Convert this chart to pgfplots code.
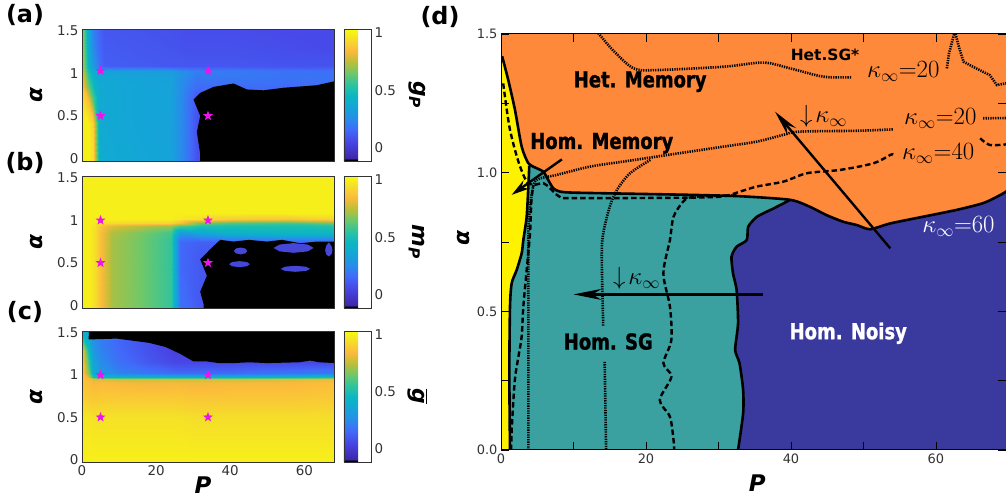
\documentclass[border=0pt]{standalone}
\usepackage[no-math]{fontspec}
\setmainfont{DejaVu Sans}
\newfontfamily\labfont{DejaVu Sans}[FakeStretch=0.82, BoldFeatures={FakeBold=1.2}]
\usepackage{pgfplots}
\pgfplotsset{compat=1.18}
\usetikzlibrary{arrows.meta}
\definecolor{orC}{RGB}{255,137,58}
\definecolor{tealC}{RGB}{58,160,160}
\definecolor{blueC}{RGB}{58,58,158}
\definecolor{starC}{RGB}{235,20,235}
\definecolor{blobC}{RGB}{70,70,215}
\definecolor{tickC}{RGB}{50,50,50}
\pgfplotsset{colormap={parb}{rgb255(0cm)=(0,0,0) rgb255(1.5cm)=(0,0,0) rgb255(2cm)=(62,38,168) rgb255(17cm)=(72,70,230) rgb255(27cm)=(65,105,250) rgb255(37cm)=(40,140,235) rgb255(47cm)=(20,165,215) rgb255(57cm)=(10,182,195) rgb255(67cm)=(45,195,160) rgb255(77cm)=(110,200,105) rgb255(87cm)=(190,190,55) rgb255(97cm)=(252,187,60) rgb255(107cm)=(245,222,42) rgb255(115.5cm)=(249,251,14)}}
\pgfdeclareplotmark{fstar}{%
 \pgfpathmoveto{\pgfpointpolar{90}{\pgfplotmarksize}}%
 \pgfpathlineto{\pgfpointpolar{126}{0.42\pgfplotmarksize}}%
 \pgfpathlineto{\pgfpointpolar{162}{\pgfplotmarksize}}%
 \pgfpathlineto{\pgfpointpolar{198}{0.42\pgfplotmarksize}}%
 \pgfpathlineto{\pgfpointpolar{234}{\pgfplotmarksize}}%
 \pgfpathlineto{\pgfpointpolar{270}{0.42\pgfplotmarksize}}%
 \pgfpathlineto{\pgfpointpolar{306}{\pgfplotmarksize}}%
 \pgfpathlineto{\pgfpointpolar{342}{0.42\pgfplotmarksize}}%
 \pgfpathlineto{\pgfpointpolar{18}{\pgfplotmarksize}}%
 \pgfpathlineto{\pgfpointpolar{54}{0.42\pgfplotmarksize}}%
 \pgfpathclose\pgfusepathqfill}
\pgfplotsset{leftp/.style={scale only axis, width=252bp, height=132bp,
  xmin=0, xmax=68, ymin=-0.03, ymax=1.52, axis on top,
  ytick={0,0.5,1,1.5}, yticklabels={0,0.5,1,1.5},
  xtick={0,20,40,60}, major tick length=0,
  tick label style={font=\fontsize{13.5}{15}\selectfont, text=tickC},
  axis line style={draw=black!80},
  ylabel={\bfseries\itshape α},
  ylabel style={at={(axis description cs:-0.179,0.5)}, anchor=center, font=\fontsize{22}{24}\selectfont},
  colorbar, colormap name=parb, point meta min=-0.12, point meta max=1.035,
  colorbar shift/.style={xshift=0bp},
  colorbar style={at={(parent axis.north east)}, anchor=north west, xshift=10bp,
    scale only axis, width=27bp, ytick={0,0.5,1}, yticklabels={0,0.5,1}, major tick length=0,
    yticklabel style={font=\fontsize{13.5}{15}\selectfont, text=tickC},
    axis line style={draw=black!80},
    ylabel style={at={(axis description cs:2.7,0.5)}, anchor=center, rotate=180, font=\fontsize{22}{24}\selectfont}},
  },
  starp/.style={only marks, mark=fstar, mark size=5.2bp, color=starC},
  dotl/.style={black, line width=2.6bp, dash pattern=on 1.3bp off 1.1bp},
  dashl/.style={black, line width=2.4bp, dash pattern=on 5.5bp off 3bp}}
\begin{document}
\begin{tikzpicture}
% ---------------- (a)
\begin{axis}[leftp, at={(82bp,339bp)}, anchor=south west, xticklabels={},
  colorbar style={ylabel={\bfseries\itshape g\textsubscript{P}}}]
\addplot[surf, shader=interp, mesh/cols=12, point meta=explicit] table[row sep=\\, x=x, y=y, meta=c]{
x y c\\
0 -0.03 1\\ 1.5 -0.03 1\\ 3 -0.03 0.95\\ 4.5 -0.03 0.42\\ 6 -0.03 0.38\\ 15 -0.03 0.36\\ 24 -0.03 0.34\\ 28 -0.03 0.2\\ 31 -0.03 0.08\\ 40 -0.03 0.1\\ 55 -0.03 0.1\\ 68 -0.03 0.1\\
0 0.4 1\\ 1.5 0.4 1\\ 3 0.4 0.92\\ 4.5 0.4 0.4\\ 6 0.4 0.37\\ 15 0.4 0.35\\ 24 0.4 0.34\\ 28 0.4 0.2\\ 31 0.4 0.08\\ 40 0.4 0.1\\ 55 0.4 0.1\\ 68 0.4 0.1\\
0 0.7 0.95\\ 1.5 0.7 0.85\\ 3 0.7 0.6\\ 4.5 0.7 0.38\\ 6 0.7 0.37\\ 15 0.7 0.35\\ 24 0.7 0.34\\ 28 0.7 0.2\\ 31 0.7 0.1\\ 40 0.7 0.12\\ 55 0.7 0.12\\ 68 0.7 0.12\\
0 0.85 0.88\\ 1.5 0.85 0.65\\ 3 0.85 0.48\\ 4.5 0.85 0.38\\ 6 0.85 0.37\\ 15 0.85 0.35\\ 24 0.85 0.34\\ 28 0.85 0.22\\ 31 0.85 0.16\\ 40 0.85 0.16\\ 55 0.85 0.16\\ 68 0.85 0.16\\
0 0.98 0.82\\ 1.5 0.98 0.55\\ 3 0.98 0.42\\ 4.5 0.98 0.36\\ 6 0.98 0.36\\ 15 0.98 0.34\\ 24 0.98 0.33\\ 28 0.98 0.25\\ 31 0.98 0.2\\ 40 0.98 0.2\\ 55 0.98 0.18\\ 68 0.98 0.18\\
0 1.03 0.8\\ 1.5 1.03 0.5\\ 3 1.03 0.4\\ 4.5 1.03 0.34\\ 6 1.03 0.33\\ 15 1.03 0.32\\ 24 1.03 0.31\\ 28 1.03 0.25\\ 31 1.03 0.21\\ 40 1.03 0.2\\ 55 1.03 0.18\\ 68 1.03 0.17\\
0 1.08 0.78\\ 1.5 1.08 0.45\\ 3 1.08 0.3\\ 4.5 1.08 0.18\\ 6 1.08 0.12\\ 15 1.08 0.11\\ 24 1.08 0.1\\ 28 1.08 0.1\\ 31 1.08 0.1\\ 40 1.08 0.1\\ 55 1.08 0.09\\ 68 1.08 0.09\\
0 1.3 0.75\\ 1.5 1.3 0.4\\ 3 1.3 0.25\\ 4.5 1.3 0.15\\ 6 1.3 0.11\\ 15 1.3 0.1\\ 24 1.3 0.09\\ 28 1.3 0.08\\ 31 1.3 0.08\\ 40 1.3 0.08\\ 55 1.3 0.07\\ 68 1.3 0.06\\
0 1.52 0.72\\ 1.5 1.52 0.38\\ 3 1.52 0.22\\ 4.5 1.52 0.14\\ 6 1.52 0.1\\ 15 1.52 0.09\\ 24 1.52 0.08\\ 28 1.52 0.07\\ 31 1.52 0.07\\ 40 1.52 0.07\\ 55 1.52 0.06\\ 68 1.52 0.06\\
};
\addplot[fill=black, draw=none] coordinates {(31.9,-0.05)(31.9,0.05)(31.0,0.31)(31.9,0.5)(30.1,0.69)(31.9,0.77)(35.5,0.84)(40.9,0.88)(44.5,0.81)(49,0.80)(54.4,0.83)(63.4,0.86)(68.5,0.91)(68.5,-0.05)} --cycle;
\addplot[starp] coordinates {(5,1.03)(34,1.03)(5,0.5)(34,0.5)};
\end{axis}
% ---------------- (b)
\begin{axis}[leftp, at={(82bp,192bp)}, anchor=south west, xticklabels={},
  colorbar style={ylabel={\bfseries\itshape m\textsubscript{P}}}]
\addplot[surf, shader=interp, mesh/cols=12, point meta=explicit] table[row sep=\\, x=x, y=y, meta=c]{
x y c\\
0 -0.03 1\\ 2 -0.03 1\\ 3.5 -0.03 0.95\\ 5 -0.03 0.85\\ 8 -0.03 0.72\\ 15 -0.03 0.66\\ 24 -0.03 0.56\\ 26.5 -0.03 0.18\\ 32 -0.03 0.1\\ 40 -0.03 0.1\\ 55 -0.03 0.1\\ 68 -0.03 0.1\\
0 0.5 1\\ 2 0.5 1\\ 3.5 0.5 0.95\\ 5 0.5 0.85\\ 8 0.5 0.72\\ 15 0.5 0.66\\ 24 0.5 0.56\\ 26.5 0.5 0.15\\ 32 0.5 0.1\\ 40 0.5 0.1\\ 55 0.5 0.1\\ 68 0.5 0.1\\
0 0.75 1\\ 2 0.75 1\\ 3.5 0.75 0.95\\ 5 0.75 0.85\\ 8 0.75 0.72\\ 15 0.75 0.66\\ 24 0.75 0.56\\ 26.5 0.75 0.15\\ 32 0.75 0.12\\ 40 0.75 0.13\\ 55 0.75 0.13\\ 68 0.75 0.13\\
0 0.85 1\\ 2 0.85 1\\ 3.5 0.85 0.95\\ 5 0.85 0.85\\ 8 0.85 0.73\\ 15 0.85 0.67\\ 24 0.85 0.58\\ 26.5 0.85 0.3\\ 32 0.85 0.35\\ 40 0.85 0.42\\ 55 0.85 0.45\\ 68 0.85 0.45\\
0 0.93 1\\ 2 0.93 1\\ 3.5 0.93 0.96\\ 5 0.93 0.88\\ 8 0.93 0.8\\ 15 0.93 0.75\\ 24 0.93 0.7\\ 26.5 0.93 0.6\\ 32 0.93 0.52\\ 40 0.93 0.5\\ 55 0.93 0.5\\ 68 0.93 0.52\\
0 0.97 1\\ 2 0.97 1\\ 3.5 0.97 0.98\\ 5 0.97 0.96\\ 8 0.97 0.94\\ 15 0.97 0.93\\ 24 0.97 0.92\\ 26.5 0.97 0.85\\ 32 0.97 0.65\\ 40 0.97 0.6\\ 55 0.97 0.58\\ 68 0.97 0.65\\
0 1.02 1\\ 2 1.02 1\\ 3.5 1.02 1\\ 5 1.02 1\\ 8 1.02 1\\ 15 1.02 1\\ 24 1.02 1\\ 26.5 1.02 0.98\\ 32 1.02 0.95\\ 40 1.02 0.9\\ 55 1.02 0.88\\ 68 1.02 0.92\\
0 1.08 1\\ 2 1.08 1\\ 3.5 1.08 1\\ 5 1.08 1\\ 8 1.08 1\\ 15 1.08 1\\ 24 1.08 1\\ 26.5 1.08 1\\ 32 1.08 1\\ 40 1.08 1\\ 55 1.08 1\\ 68 1.08 1\\
0 1.52 1\\ 2 1.52 1\\ 3.5 1.52 1\\ 5 1.52 1\\ 8 1.52 1\\ 15 1.52 1\\ 24 1.52 1\\ 26.5 1.52 1\\ 32 1.52 1\\ 40 1.52 1\\ 55 1.52 1\\ 68 1.52 1\\
};
\addplot[fill=black, draw=none] coordinates {(32.8,-0.05)(32.8,0.02)(31.9,0.16)(33.7,0.35)(31.9,0.54)(34.6,0.66)(37.3,0.77)(40.9,0.75)(45,0.77)(49.9,0.75)(54,0.77)(58.9,0.73)(63.4,0.75)(68.5,0.75)(68.5,-0.05)} --cycle;
\addplot[fill=blobC, draw=none] coordinates {(45.3,0.485)(44.5,0.51)(42.5,0.52)(40.5,0.51)(39.7,0.485)(40.5,0.46)(42.5,0.45)(44.5,0.46)} --cycle;
\addplot[fill=blobC, draw=none] coordinates {(61.6,0.43)(60.4,0.455)(57.6,0.465)(54.8,0.455)(53.6,0.43)(54.8,0.405)(57.6,0.395)(60.4,0.405)} --cycle;
\addplot[fill=blobC, draw=none] coordinates {(62.5,0.675)(60.9,0.715)(57.1,0.732)(53.3,0.715)(51.7,0.675)(53.3,0.635)(57.1,0.618)(60.9,0.635)} --cycle;
\addplot[fill=blobC, draw=none] coordinates {(44.6,0.64)(44.1,0.668)(42.8,0.68)(41.5,0.668)(41,0.64)(41.5,0.612)(42.8,0.6)(44.1,0.612)} --cycle;
\addplot[fill=blobC, draw=none] coordinates {(67.6,0.65)(67.3,0.7)(66.6,0.74)(65.9,0.7)(65.6,0.65)(65.9,0.6)(66.6,0.575)(67.3,0.6)} --cycle;
\addplot[starp] coordinates {(5,1)(34,1)(5,0.5)(34,0.5)};
\end{axis}
% ---------------- (c)
\begin{axis}[leftp, at={(82bp,38bp)}, anchor=south west, height=131bp,
  xticklabels={0,20,40,60},
  xlabel={\bfseries\itshape P},
  xlabel style={at={(axis description cs:0.48,-0.18)}, anchor=center, font=\fontsize{23}{25}\selectfont},
  colorbar style={ylabel={$\overline{\hbox{\bfseries\itshape g}}$}}]
\addplot[surf, shader=interp, mesh/cols=11, point meta=explicit] table[row sep=\\, x=x, y=y, meta=c]{
x y c\\
0 -0.03 1\\ 1.5 -0.03 1\\ 3 -0.03 1\\ 5 -0.03 1\\ 10 -0.03 1\\ 18 -0.03 1\\ 25 -0.03 1\\ 30 -0.03 1\\ 40 -0.03 1\\ 55 -0.03 1\\ 68 -0.03 1\\
0 0.5 0.97\\ 1.5 0.5 0.97\\ 3 0.5 0.96\\ 5 0.5 0.96\\ 10 0.5 0.96\\ 18 0.5 0.96\\ 25 0.5 0.96\\ 30 0.5 0.95\\ 40 0.5 0.95\\ 55 0.5 0.95\\ 68 0.5 0.95\\
0 0.7 0.92\\ 1.5 0.7 0.9\\ 3 0.7 0.89\\ 5 0.7 0.9\\ 10 0.7 0.9\\ 18 0.7 0.9\\ 25 0.7 0.9\\ 30 0.7 0.89\\ 40 0.7 0.89\\ 55 0.7 0.89\\ 68 0.7 0.9\\
0 0.9 0.88\\ 1.5 0.9 0.86\\ 3 0.9 0.84\\ 5 0.9 0.85\\ 10 0.9 0.84\\ 18 0.9 0.83\\ 25 0.9 0.84\\ 30 0.9 0.83\\ 40 0.9 0.84\\ 55 0.9 0.84\\ 68 0.9 0.86\\
0 0.95 0.88\\ 1.5 0.95 0.85\\ 3 0.95 0.8\\ 5 0.95 0.8\\ 10 0.95 0.78\\ 18 0.95 0.78\\ 25 0.95 0.78\\ 30 0.95 0.78\\ 40 0.95 0.78\\ 55 0.95 0.8\\ 68 0.95 0.82\\
0 0.98 0.88\\ 1.5 0.98 0.8\\ 3 0.98 0.5\\ 5 0.98 0.45\\ 10 0.98 0.42\\ 18 0.98 0.42\\ 25 0.98 0.42\\ 30 0.98 0.42\\ 40 0.98 0.42\\ 55 0.98 0.45\\ 68 0.98 0.5\\
0 1.02 0.88\\ 1.5 1.02 0.7\\ 3 1.02 0.38\\ 5 1.02 0.3\\ 10 1.02 0.22\\ 18 1.02 0.18\\ 25 1.02 0.15\\ 30 1.02 0.15\\ 40 1.02 0.15\\ 55 1.02 0.18\\ 68 1.02 0.2\\
0 1.15 0.88\\ 1.5 1.15 0.6\\ 3 1.15 0.35\\ 5 1.15 0.25\\ 10 1.15 0.17\\ 18 1.15 0.1\\ 25 1.15 0.05\\ 30 1.15 0.05\\ 40 1.15 0.05\\ 55 1.15 0.05\\ 68 1.15 0.05\\
0 1.3 0.85\\ 1.5 1.3 0.5\\ 3 1.3 0.3\\ 5 1.3 0.22\\ 10 1.3 0.15\\ 18 1.3 0.08\\ 25 1.3 0.03\\ 30 1.3 0.03\\ 40 1.3 0.03\\ 55 1.3 0.03\\ 68 1.3 0.03\\
0 1.52 0.4\\ 1.5 1.52 0.35\\ 3 1.52 0.25\\ 5 1.52 0.2\\ 10 1.52 0.13\\ 18 1.52 0.07\\ 25 1.52 0.03\\ 30 1.52 0.03\\ 40 1.52 0.03\\ 55 1.52 0.03\\ 68 1.52 0.03\\
};
\addplot[fill=black, draw=none] coordinates {(1.9,1.6)(1.8,1.42)(9.4,1.43)(18.1,1.38)(22.6,1.33)(26.5,1.25)(30.1,1.16)(33.7,1.16)(37,1.14)(40.6,1.14)(45.1,1.15)(50,1.14)(58.6,1.15)(61.6,1.17)(64,1.15)(68.5,1.14)(68.5,1.6)} --cycle;
\addplot[starp] coordinates {(5,1)(34,1)(5,0.5)(34,0.5)};
\end{axis}
% ---------------- (d)
\begin{axis}[at={(501bp,50bp)}, anchor=south west, scale only axis,
  width=505.3bp, height=416bp, xmin=0, xmax=69.7, ymin=0, ymax=1.5, axis on top,
  xtick={0,10,...,60}, xticklabels={0,,20,,40,,60},
  ytick={0,0.25,...,1.5}, yticklabels={0.0,,0.5,,1.0,,1.5},
  tick align=inside, major tick length=8bp, tick style={black, line width=0.8bp},
  tick label style={font=\fontsize{13}{15}\selectfont, text=tickC},
  axis line style={line width=1bp},
  xlabel={\bfseries\itshape P},
  xlabel style={at={(axis description cs:0.507,-0.079)}, anchor=center, font=\fontsize{23}{25}\selectfont},
  ylabel={\bfseries\itshape α},
  ylabel style={at={(axis description cs:-0.075,0.51)}, anchor=center, font=\fontsize{22}{24}\selectfont},
  ]
\addplot[fill=orC, draw=none] coordinates {(0,0)(70,0)(70,1.5)(0,1.5)} --cycle;
\addplot[fill=tealC, draw=none] coordinates {(1.24,0)(1.15,0.277)(1.24,0.517)(1.47,0.601)(2.16,0.649)(2.85,0.709)(3.08,0.757)(3.54,0.841)(3.77,0.95)(3.9,1.025)(4.92,1.016)(5.84,1.004)(6.5,0.974)(7.2,0.944)(8.1,0.932)(10,0.928)(26.1,0.92)(39.9,0.902)(37.6,0.871)(35.3,0.841)(34.1,0.805)(33.9,0.757)(32.5,0.733)(31.8,0.697)(32.0,0.637)(32.5,0.577)(32.7,0.457)(32.3,0.361)(32.9,0.313)(33.4,0.216)(33.4,0.132)(32.7,0)} --cycle;
\addplot[fill=blueC, draw=none] coordinates {(39.9,0.902)(42.6,0.877)(44.9,0.847)(47.2,0.823)(49.1,0.811)(50.9,0.796)(53.7,0.817)(58.2,0.841)(62.9,0.866)(66.5,0.890)(68.4,0.913)(69.7,0.932)(70,0.94)(70,0)(32.7,0)(33.4,0.132)(33.4,0.216)(32.9,0.313)(32.3,0.361)(32.7,0.457)(32.5,0.577)(32.0,0.637)(31.8,0.697)(32.5,0.733)(33.9,0.757)(34.1,0.805)(35.3,0.841)(37.6,0.871)} --cycle;
\addplot[fill=yellow, draw=none] coordinates {(0,0)(1.24,0)(1.15,0.277)(1.24,0.517)(1.47,0.601)(2.16,0.649)(2.85,0.709)(3.08,0.757)(3.54,0.841)(3.77,0.95)(3.9,1.025)(3.77,1.034)(2.85,1.094)(1.93,1.226)(1.0,1.334)(0.18,1.416)(0,1.43)} --cycle;
% dotted lines
\addplot[dotl, smooth] coordinates {(13.2,1.51)(15.5,1.44)(18.3,1.376)(21.5,1.37)(30.7,1.382)(36.2,1.397)(39.9,1.376)(44.5,1.346)(48.4,1.344)};
\addplot[dotl] coordinates {(61.5,1.376)(61.8,1.43)(62.6,1.51)(63.2,1.45)(63.8,1.40)(65.1,1.382)(67.4,1.352)(68.4,1.316)(69.7,1.322)};
\addplot[dotl, smooth] coordinates {(3.77,0)(3.77,0.4)(3.77,0.757)(3.9,0.85)(4.3,0.93)(4.9,0.974)(7.7,0.992)(12.3,1.022)(16.9,1.040)(21.5,1.058)(26.1,1.076)(30.7,1.094)(35.3,1.112)(38.9,1.136)(41.2,1.148)(49.1,1.151)(54.1,1.156)};
\addplot[dotl] coordinates {(66.5,1.196)(69.7,1.197)};
\addplot[dotl, smooth] coordinates {(20.6,1.046)(17.8,0.998)(16.0,0.938)(15.0,0.877)(14.1,0.781)(13.9,0.7)(14.1,0.445)};
\addplot[dotl] coordinates {(14.3,0.318)(14.5,0)};
% dashed lines
\addplot[dashl, smooth] coordinates {(0.3,1.322)(1.2,1.16)(2.4,1.04)(3.5,0.97)(4.46,0.956)(5.84,0.962)(6.7,0.945)(8.1,0.913)(10,0.908)(26.1,0.91)(30.7,0.915)(33,0.932)(35.3,0.950)(39,0.968)(42.2,0.998)(46.8,1.01)(51.4,1.034)(53.7,1.064)(54.1,1.066)};
\addplot[dashl, smooth] coordinates {(66.1,1.124)(67.4,1.10)(69.7,1.102)};
\addplot[dashl, smooth] coordinates {(32.5,0.918)(28,0.915)(26,0.91)(25.1,0.895)(23.8,0.841)(23.3,0.757)(22.4,0.637)(23.3,0.517)(23.5,0.397)(22.4,0.313)(23.5,0.264)(21.9,0.18)(23.3,0.12)(23.8,0.036)(23.9,0)};
\addplot[dashl, smooth] coordinates {(1.4,0)(1.5,0.084)(1.9,0.25)(2.4,0.336)(2.85,0.409)(3.08,0.517)(3.5,0.637)(4.0,0.78)(4.2,0.902)(4.46,0.956)};
% solid boundaries
\addplot[black, line width=2.6bp, smooth, tension=0.4] coordinates {(0.15,1.42)(1.0,1.334)(1.93,1.226)(2.85,1.094)(3.77,1.034)(4.92,1.016)(5.84,1.004)(6.5,0.974)(7.2,0.944)(8.1,0.932)(10,0.928)(18,0.924)(26.1,0.92)(33,0.915)(39.9,0.902)(42.6,0.877)(44.9,0.847)(47.2,0.823)(49.1,0.811)(50.9,0.796)(53.7,0.817)(58.2,0.841)(62.9,0.866)(66.5,0.890)(68.4,0.913)(69.7,0.932)(70.5,0.95)};
\addplot[black, line width=2.6bp, smooth, tension=0.4] coordinates {(3.9,1.025)(3.77,0.95)(3.54,0.841)(3.08,0.757)(2.85,0.709)(2.16,0.649)(1.47,0.601)(1.24,0.517)(1.15,0.277)(1.24,0)};
\addplot[black, line width=2.6bp, smooth, tension=0.4] coordinates {(39.9,0.902)(37.6,0.871)(35.3,0.841)(34.1,0.805)(33.9,0.757)(32.5,0.733)(31.8,0.697)(32.0,0.637)(32.5,0.577)(32.7,0.457)(32.3,0.361)(32.9,0.313)(33.4,0.216)(33.4,0.132)(32.7,0)};
% arrows
\addplot[black, line width=2.4bp, -{Stealth[length=26bp, width=11bp, inset=9bp]}] coordinates {(53.7,0.727)(37.8,1.22)};
\addplot[black, line width=2.4bp, -{Stealth[length=28bp, width=11bp, inset=9bp]}] coordinates {(36.2,0.561)(10.0,0.561)};
\addplot[black, line width=2.4bp, -{Stealth[length=18bp, width=10bp, inset=6bp]}] coordinates {(8.4,1.048)(1.47,0.92)};
% labels
\node[font=\labfont\bfseries\fontsize{22}{24}\selectfont] at (axis cs:19.2,1.328) {Het. Memory};
\node[font=\labfont\bfseries\fontsize{22}{24}\selectfont] at (axis cs:13.9,1.106) {Hom. Memory};
\node[font=\bfseries\fontsize{15.5}{17}\selectfont] at (axis cs:44.7,1.424) {Het.SG*};
\node[font=\labfont\bfseries\fontsize{22}{24}\selectfont] at (axis cs:14.8,0.391) {Hom. SG};
\node[font=\labfont\bfseries\fontsize{22}{24}\selectfont, text=white] at (axis cs:47.9,0.421) {Hom. Noisy};
\node[font=\fontsize{25}{28}\selectfont] at (axis cs:55.5,1.364) {$\kappa_{\infty}{=}20$};
\node[font=\fontsize{25}{28}\selectfont] at (axis cs:60.6,1.196) {$\kappa_{\infty}{=}20$};
\node[font=\fontsize{25}{28}\selectfont] at (axis cs:60.3,1.07) {$\kappa_{\infty}{=}40$};
\node[font=\fontsize{25}{28}\selectfont, text=white] at (axis cs:63.1,0.805) {$\kappa_{\infty}{=}60$};
\node[font=\fontsize{25}{28}\selectfont] at (axis cs:44.5,1.202) {$\downarrow\!\kappa_{\infty}$};
\node[font=\fontsize{25}{28}\selectfont] at (axis cs:18.7,0.619) {$\downarrow\!\kappa_{\infty}$};
\end{axis}
\node[font=\bfseries\fontsize{24}{26}\selectfont] at (25bp,485bp) {(a)};
\node[font=\bfseries\fontsize{24}{26}\selectfont] at (25bp,337bp) {(b)};
\node[font=\bfseries\fontsize{24}{26}\selectfont] at (25bp,188bp) {(c)};
\node[font=\bfseries\fontsize{24}{26}\selectfont] at (440bp,483bp) {(d)};
\pgfresetboundingbox
\useasboundingbox (0,0) rectangle (1006bp,500bp);
\end{tikzpicture}
\end{document}
